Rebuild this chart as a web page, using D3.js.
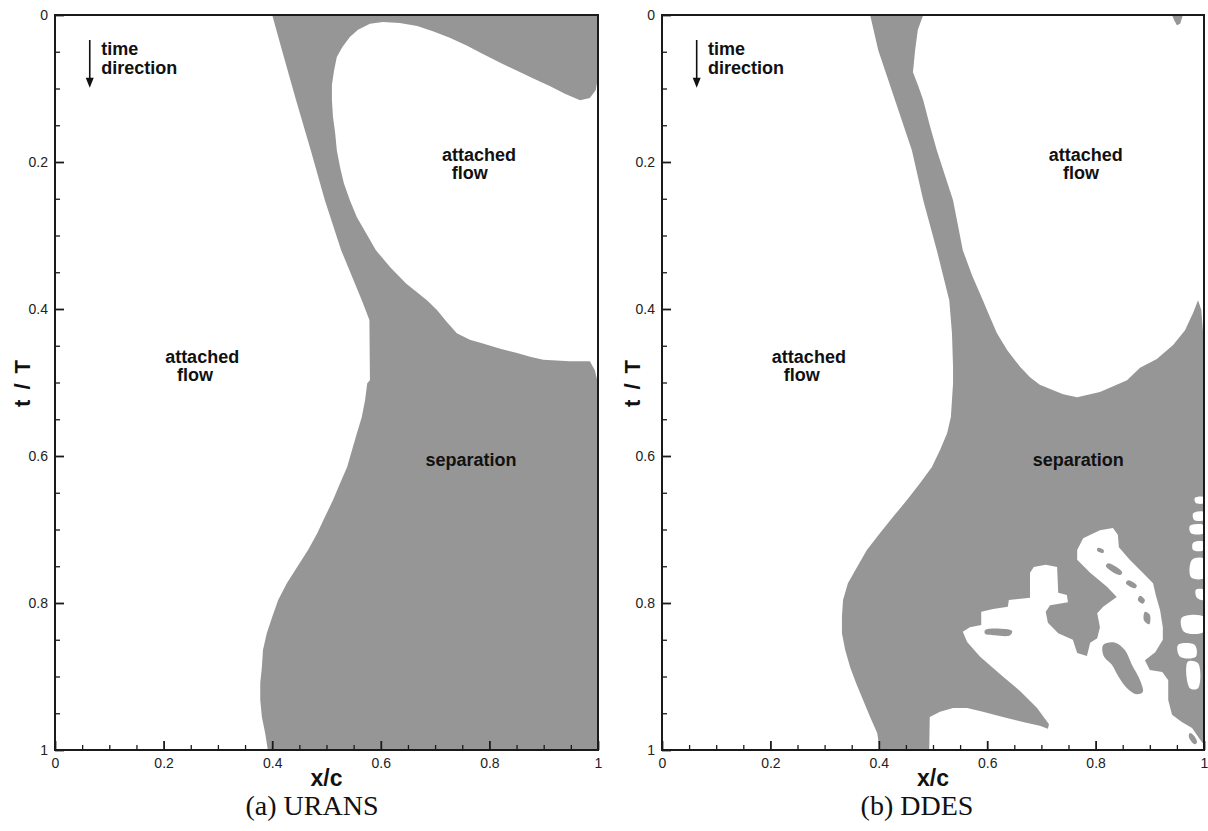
<!DOCTYPE html>
<html><head><meta charset="utf-8">
<script src="https://cdn.jsdelivr.net/npm/d3@7"></script>
<style>
body{margin:0;background:#fff}
svg{display:block}
</style></head><body>
<svg id="chart" width="1208" height="831"></svg>
<script>
// ---------- axis data ----------
const xTickValues = [0, 0.2, 0.4, 0.6, 0.8, 1];
const xTickLabels = ["0", "0.2", "0.4", "0.6", "0.8", "1"];
const yTickValues = [0, 0.2, 0.4, 0.6, 0.8, 1];
const yTickLabels = ["0", "0.2", "0.4", "0.6", "0.8", "1"];
const minorTickValues = [0.05,0.1,0.15,0.25,0.3,0.35,0.45,0.5,0.55,0.65,0.7,0.75,0.85,0.9,0.95];
const captions = ["(a) URANS", "(b) DDES"];
const xTitle = "x/c";
const yTitle = "t / T";

// ---------- URANS: separated region boundary [x/c, t/T] ----------
const uransSeparation = [
 [0.400,0],[1,0],[1,0.084],[0.996,0.102],[0.985,0.113],[0.967,0.116],[0.939,0.107],[0.912,0.097],
 [0.880,0.086],[0.851,0.076],[0.820,0.065],[0.788,0.053],[0.759,0.042],[0.727,0.031],[0.696,0.022],
 [0.667,0.015],[0.635,0.011],[0.604,0.0095],[0.580,0.012],[0.558,0.020],[0.543,0.030],[0.529,0.044],
 [0.519,0.057],[0.514,0.075],[0.510,0.095],[0.510,0.116],[0.512,0.139],[0.516,0.161],[0.519,0.184],
 [0.525,0.207],[0.532,0.229],[0.543,0.252],[0.556,0.275],[0.573,0.297],[0.591,0.320],[0.617,0.343],
 [0.646,0.365],[0.685,0.388],[0.703,0.401],[0.722,0.418],[0.740,0.433],[0.764,0.442],[0.788,0.447],
 [0.820,0.454],[0.851,0.460],[0.875,0.465],[0.899,0.469],[0.948,0.471],[0.985,0.471],[0.994,0.483],
 [1,0.501],[1,1],
 [0.392,1],[0.387,0.977],[0.381,0.955],[0.378,0.932],[0.378,0.909],[0.381,0.887],[0.383,0.864],
 [0.390,0.841],[0.400,0.819],[0.411,0.796],[0.427,0.773],[0.446,0.751],[0.466,0.728],[0.483,0.705],
 [0.497,0.683],[0.512,0.660],[0.525,0.637],[0.538,0.615],[0.547,0.592],[0.556,0.569],[0.565,0.547],
 [0.571,0.524],[0.575,0.501],[0.580,0.497],[0.579,0.415],[0.565,0.388],[0.527,0.320],[0.497,0.252],
 [0.471,0.184],[0.444,0.116],[0.418,0.048]
];

// ---------- DDES ----------
const ddesSeparation = [
 [0.384,0],[0.482,0],[0.472,0.020],[0.467,0.048],[0.463,0.078],[0.472,0.095],[0.482,0.116],[0.494,0.150],
 [0.507,0.184],[0.522,0.218],[0.537,0.252],[0.546,0.286],[0.555,0.320],[0.572,0.354],[0.592,0.388],
 [0.605,0.411],[0.618,0.433],[0.637,0.456],[0.661,0.479],[0.679,0.493],[0.697,0.503],[0.740,0.516],
 [0.766,0.520],[0.808,0.513],[0.858,0.497],[0.882,0.480],[0.913,0.468],[0.943,0.449],[0.965,0.429],
 [0.980,0.405],[0.989,0.388],[0.995,0.401],[0.998,0.429],[1,0.465],[1,1],
 [0.402,1],[0.397,0.977],[0.384,0.955],[0.371,0.932],[0.358,0.909],[0.347,0.887],[0.338,0.864],
 [0.332,0.841],[0.332,0.819],[0.334,0.796],[0.343,0.773],[0.360,0.751],[0.378,0.728],[0.402,0.705],
 [0.426,0.683],[0.452,0.660],[0.476,0.637],[0.498,0.615],[0.513,0.592],[0.526,0.569],[0.533,0.547],
 [0.535,0.524],[0.537,0.501],[0.537,0.479],[0.535,0.433],[0.530,0.388],[0.507,0.320],[0.482,0.252],
 [0.461,0.184],[0.430,0.116],[0.399,0.048]
];
const ddesCornerSpot = [[0.941,0],[0.961,0],[0.956,0.012],[0.950,0.014],[0.945,0.007]];
// re-attached (white) region in the lower right
const ddesReattached = [
 [0.493,1],[0.494,0.955],[0.513,0.948],[0.537,0.943],[0.563,0.943],[0.592,0.948],[0.629,0.955],
 [0.666,0.962],[0.697,0.967],[0.712,0.971],[0.714,0.965],[0.692,0.943],[0.661,0.920],[0.624,0.897],
 [0.587,0.873],[0.563,0.853],[0.555,0.839],[0.568,0.833],[0.589,0.830],[0.589,0.812],[0.611,0.808],
 [0.638,0.805],[0.640,0.796],[0.679,0.793],[0.679,0.759],[0.686,0.751],[0.708,0.748],[0.729,0.751],
 [0.731,0.786],[0.747,0.789],[0.749,0.799],[0.716,0.803],[0.708,0.812],[0.712,0.827],[0.731,0.841],
 [0.758,0.850],[0.766,0.868],[0.784,0.872],[0.790,0.854],[0.803,0.848],[0.808,0.833],[0.803,0.814],
 [0.814,0.805],[0.839,0.792],[0.821,0.778],[0.790,0.759],[0.766,0.741],[0.766,0.728],[0.777,0.712],
 [0.808,0.701],[0.832,0.698],[0.841,0.707],[0.843,0.724],[0.863,0.741],[0.887,0.759],[0.906,0.773],
 [0.911,0.789],[0.919,0.810],[0.924,0.833],[0.924,0.850],[0.910,0.867],[0.891,0.878],[0.900,0.891],
 [0.923,0.894],[0.934,0.905],[0.934,0.932],[0.941,0.952],[0.959,0.962],[0.978,0.970],[0.993,0.986],
 [1,0.993],[1,1]
];
// separated islands inside the re-attached region
const ddesSeparatedIslands = [
 [[0.814,0.857],[0.836,0.854],[0.854,0.864],[0.867,0.884],[0.882,0.905],[0.887,0.921],[0.875,0.924],[0.858,0.916],[0.843,0.901],[0.830,0.884],[0.815,0.872]],
 [[0.596,0.837],[0.624,0.835],[0.646,0.838],[0.642,0.844],[0.614,0.844],[0.596,0.842]],
 [[0.804,0.725],[0.815,0.728],[0.814,0.732],[0.803,0.729]],
 [[0.823,0.746],[0.849,0.758],[0.845,0.762],[0.819,0.750]],
 [[0.860,0.769],[0.876,0.776],[0.873,0.780],[0.856,0.773]],
 [[0.882,0.790],[0.891,0.796],[0.887,0.801],[0.878,0.796]],
 [[0.891,0.812],[0.900,0.816],[0.899,0.829],[0.889,0.823]],
 [[0.974,0.977],[0.983,0.982],[0.987,0.990],[0.982,0.992],[0.972,0.982]]
];
// attached pockets along the trailing edge
const ddesTrailingPockets = [
 [[0.983,0.657],[1,0.656],[1,0.664],[0.985,0.664]],
 [[0.980,0.678],[1,0.676],[1,0.687],[0.982,0.687]],
 [[0.974,0.695],[1,0.694],[1,0.705],[0.976,0.705]],
 [[0.980,0.718],[1,0.717],[1,0.728],[0.980,0.728]],
 [[0.978,0.741],[1,0.740],[1,0.766],[0.976,0.765]],
 [[0.985,0.782],[1,0.782],[1,0.796],[0.987,0.793]],
 [[0.959,0.820],[1,0.819],[1,0.839],[0.963,0.839]],
 [[0.952,0.857],[0.983,0.857],[0.985,0.873],[0.956,0.873]],
 [[0.970,0.880],[0.989,0.882],[0.989,0.916],[0.974,0.916]]
];

// region labels [text, x/c, t/T]
const regionLabelsA = [["attached",0.781,0.198],["flow",0.764,0.223],["attached",0.271,0.473],["flow",0.258,0.498],["separation",0.766,0.614]];
const regionLabelsB = [["attached",0.782,0.198],["flow",0.773,0.223],["attached",0.271,0.473],["flow",0.258,0.498],["separation",0.768,0.614]];
const timeNote = ["time", "direction"];

// ---------- layout ----------
const GREY = "#969696";
const svg = d3.select("#chart");
const panels = [
  {left:55, right:598, top:15, bottom:750, capX:312, yTitleX:22},
  {left:662, right:1204, top:15, bottom:750, capX:917, yTitleX:632}
];

function drawPanel(p, idx, layers, labels) {
  const x = d3.scaleLinear().domain([0,1]).range([p.left, p.right]);
  const y = d3.scaleLinear().domain([0,1]).range([p.top, p.bottom]);
  const clipId = "clip" + idx;
  svg.append("clipPath").attr("id", clipId).append("rect")
    .attr("x", p.left).attr("y", p.top).attr("width", p.right-p.left).attr("height", p.bottom-p.top);
  const g = svg.append("g").attr("clip-path", `url(#${clipId})`);
  const lin = d3.line().x(d=>x(d[0])).y(d=>y(d[1])).curve(d3.curveLinearClosed);
  const smooth = d3.line().x(d=>x(d[0])).y(d=>y(d[1])).curve(d3.curveCatmullRomClosed.alpha(0.5));
  layers.forEach(l => {
    (l.multi ? l.pts : [l.pts]).forEach(pts => {
      g.append("path").attr("d", (l.smooth ? smooth : lin)(pts)).attr("fill", l.fill);
    });
  });

  // axes
  const fmtX = d => xTickLabels[xTickValues.indexOf(d)];
  const fmtY = d => yTickLabels[yTickValues.indexOf(d)];
  const ax = svg.append("g").attr("transform", `translate(0,${p.bottom})`)
    .call(d3.axisBottom(x).tickValues(xTickValues).tickFormat(fmtX).tickSizeInner(-9).tickSizeOuter(0).tickPadding(8));
  const axm = svg.append("g").attr("transform", `translate(0,${p.bottom})`)
    .call(d3.axisBottom(x).tickValues(minorTickValues).tickFormat("").tickSizeInner(-5).tickSizeOuter(0));
  const ay = svg.append("g").attr("transform", `translate(${p.left},0)`)
    .call(d3.axisLeft(y).tickValues(yTickValues).tickFormat(fmtY).tickSizeInner(-9).tickSizeOuter(0).tickPadding(7));
  const aym = svg.append("g").attr("transform", `translate(${p.left},0)`)
    .call(d3.axisLeft(y).tickValues(minorTickValues).tickFormat("").tickSizeInner(-5).tickSizeOuter(0));
  [ax, axm, ay, aym].forEach(a => {
    a.select(".domain").remove();
    a.selectAll("line").attr("stroke", "#1a1a1a").attr("stroke-width", 1.3);
    a.selectAll("text").attr("font-family", "'Liberation Sans', Arial, sans-serif")
      .attr("font-size", 14).attr("fill", "#222");
  });
  ax.selectAll("line").attr("stroke-width", 1.8);
  ay.selectAll("line").attr("stroke-width", 1.8);

  // frame
  svg.append("rect").attr("x", p.left).attr("y", p.top)
    .attr("width", p.right-p.left).attr("height", p.bottom-p.top)
    .attr("fill", "none").attr("stroke", "#1a1a1a").attr("stroke-width", 2);

  const bold = "'Liberation Sans', Arial, Helvetica, sans-serif";
  // axis titles
  svg.append("text").attr("x", (p.left+p.right)/2).attr("y", 786)
    .attr("text-anchor", "middle").attr("font-family", bold).attr("font-weight", "bold")
    .attr("font-size", 23).attr("fill", "#111").text(xTitle);
  svg.append("text").attr("transform", `translate(${p.yTitleX + 8},${(p.top+p.bottom)/2}) rotate(-90)`)
    .attr("text-anchor", "middle").attr("font-family", bold).attr("font-weight", "bold")
    .attr("font-size", 22).attr("letter-spacing", 2).attr("fill", "#111").text(yTitle);

  // region labels
  labels.forEach(l => {
    svg.append("text").attr("x", x(l[1])).attr("y", y(l[2])).attr("text-anchor", "middle")
      .attr("font-family", bold).attr("font-weight", "bold").attr("font-size", 18)
      .attr("fill", "#111").text(l[0]);
  });

  // time direction arrow
  const ax0 = x(0.064), ay0 = y(0.034), ay1 = y(0.099);
  svg.append("line").attr("x1", ax0).attr("x2", ax0).attr("y1", ay0).attr("y2", ay1 - 8)
    .attr("stroke", "#111").attr("stroke-width", 1.6);
  svg.append("path").attr("d", `M${ax0-4},${ay1-10}L${ax0+4},${ay1-10}L${ax0},${ay1}Z`).attr("fill", "#111");
  timeNote.forEach((t, i) => {
    svg.append("text").attr("x", x(0.085)).attr("y", y(i === 0 ? 0.054 : 0.080))
      .attr("font-family", bold).attr("font-weight", "bold").attr("font-size", 18)
      .attr("fill", "#111").text(t);
  });

  // caption
  svg.append("text").attr("x", p.capX).attr("y", 815).attr("text-anchor", "middle")
    .attr("font-family", "'Liberation Serif', 'Times New Roman', serif").attr("font-size", 28)
    .attr("fill", "#111").text(captions[idx]);
}

drawPanel(panels[0], 0, [
  {pts: uransSeparation, fill: GREY}
], regionLabelsA);

drawPanel(panels[1], 1, [
  {pts: ddesSeparation, fill: GREY},
  {pts: ddesCornerSpot, fill: GREY},
  {pts: ddesReattached, fill: "#fff"},
  {pts: ddesSeparatedIslands, fill: GREY, multi: true, smooth: true},
  {pts: ddesTrailingPockets, fill: "#fff", multi: true, smooth: true}
], regionLabelsB);
</script>
</body></html>
